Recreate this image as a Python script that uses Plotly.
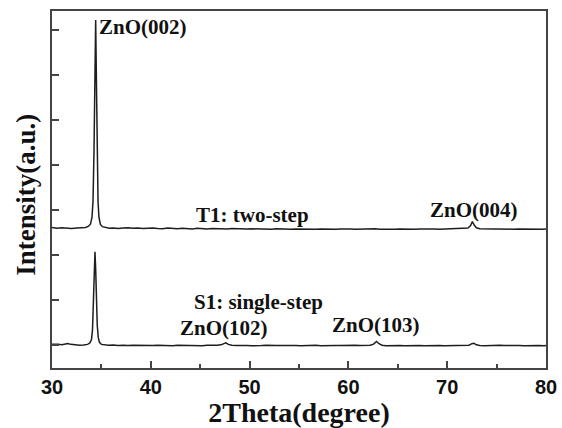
import plotly.graph_objects as go

# ---- data ----
t1_x = [30.0, 30.5, 31.0, 31.5, 32.0, 32.5, 33.0, 33.4, 33.7, 33.9, 34.05, 34.15, 34.25, 34.35,
        34.42, 34.5, 34.58, 34.66, 34.75, 34.9, 35.1, 35.4, 35.8, 36.2, 36.7, 37.2, 37.7, 38.2,
        38.7, 39.2, 39.7, 40.2, 40.7, 41.2, 41.7, 42.2, 42.7, 43.2, 43.7, 44.2, 44.7, 45.2, 45.7,
        46.2, 46.7, 47.2, 47.7, 48.2, 48.7, 49.2, 49.7, 50.2, 50.7, 51.2, 51.7, 52.2, 52.7, 53.2,
        53.7, 54.2, 54.7, 55.2, 55.7, 56.2, 56.7, 57.2, 57.7, 58.2, 58.7, 59.2, 59.7, 60.2, 60.7,
        61.2, 61.7, 62.2, 62.7, 63.2, 63.7, 64.2, 64.7, 65.2, 65.7, 66.2, 66.7, 67.2, 67.7, 68.2,
        68.7, 69.2, 69.7, 70.2, 70.7, 71.2, 71.7, 72.1, 72.35, 72.55, 72.75, 72.95, 73.3, 73.7,
        74.2, 74.7, 75.2, 75.7, 76.2, 76.7, 77.2, 77.7, 78.2, 78.7, 79.2, 79.7, 80.0]
t1_y = [3120, 3105, 3115, 3110, 3100, 3112, 3108, 3120, 3150, 3200, 3350, 3700, 4800, 6600,
        7730, 6300, 4600, 3700, 3350, 3190, 3140, 3118, 3105, 3112, 3100, 3108, 3115, 3102,
        3110, 3098, 3106, 3112, 3100, 3095, 3108, 3100, 3092, 3104, 3098, 3090, 3102, 3096, 3088,
        3100, 3094, 3098, 3090, 3096, 3088, 3094, 3085, 3092, 3086, 3095, 3088, 3082, 3092, 3085,
        3090, 3080, 3088, 3084, 3092, 3086, 3080, 3088, 3083, 3090, 3082, 3087, 3080, 3088, 3084,
        3090, 3082, 3086, 3092, 3084, 3080, 3088, 3083, 3090, 3082, 3086, 3080, 3088, 3092, 3084,
        3090, 3082, 3086, 3092, 3085, 3090, 3095, 3110, 3160, 3250, 3170, 3115, 3095, 3088,
        3092, 3085, 3090, 3084, 3088, 3082, 3090, 3086, 3092, 3084, 3088, 3083, 3086]

s1_x = [30.0, 30.3, 30.6, 31.0, 31.3, 31.6, 31.9, 32.3, 32.8, 33.2, 33.6, 33.85, 34.0, 34.1,
        34.2, 34.28, 34.35, 34.42, 34.5, 34.58, 34.68, 34.8, 35.0, 35.3, 35.7, 36.2, 36.7, 37.2,
        37.7, 38.2, 38.7, 39.2, 39.7, 40.2, 40.7, 41.2, 41.7, 42.2, 42.7, 43.2, 43.7, 44.2, 44.7,
        45.2, 45.7, 46.2, 46.7, 47.1, 47.4, 47.6, 47.85, 48.2, 48.7, 49.2, 49.7, 50.2, 50.7, 51.2,
        51.7, 52.2, 52.7, 53.2, 53.7, 54.2, 54.7, 55.2, 55.7, 56.2, 56.7, 57.2, 57.7, 58.2, 58.7,
        59.2, 59.7, 60.2, 60.7, 61.2, 61.7, 62.2, 62.55, 62.85, 63.1, 63.4, 63.8, 64.2, 64.7,
        65.2, 65.7, 66.2, 66.7, 67.2, 67.7, 68.2, 68.7, 69.2, 69.7, 70.2, 70.7, 71.2, 71.7, 72.2,
        72.5, 72.7, 72.95, 73.3, 73.8, 74.3, 74.8, 75.3, 75.8, 76.3, 76.8, 77.3, 77.8, 78.3, 78.8,
        79.3, 79.8, 80.0]
s1_y = [530, 520, 525, 515, 530, 545, 525, 510, 505, 512, 525, 560, 640, 850,
        1400, 2100, 2580, 2200, 1500, 950, 680, 570, 525, 512, 505, 512, 500, 508,
        498, 506, 500, 510, 502, 498, 507, 500, 505, 496, 504, 500, 508, 498, 503,
        497, 505, 500, 506, 515, 545, 560, 525, 505, 498, 505, 500, 496, 504, 498,
        503, 495, 502, 498, 505, 497, 502, 496, 503, 498, 504, 497, 502, 495, 501,
        498, 505, 497, 503, 498, 504, 505, 530, 590, 540, 505, 495, 500, 496,
        502, 497, 503, 495, 500, 497, 503, 498, 502, 496, 500, 497, 503, 498, 505,
        540, 550, 515, 500, 496, 502, 497, 503, 498, 502, 496, 500, 497, 503, 498,
        501, 497, 499]

labels = ["ZnO(002)", "T1: two-step", "ZnO(004)", "S1: single-step", "ZnO(102)", "ZnO(103)"]
label_x = [39.2, 50.3, 72.7, 50.95, 47.4, 62.8]
label_y = [7578, 3400, 3511, 1467, 890, 956]

x_title = "2Theta(degree)"
y_title = "Intensity(a.u.)"

x_range = [30, 80]
y_range = [0, 7930]

# ---- figure ----
fig = go.Figure()
for xs, ys in [(s1_x, s1_y), (t1_x, t1_y)]:
    fig.add_trace(go.Scatter(x=xs, y=ys, mode="lines",
                             line=dict(color="#1e1e1e", width=1.5),
                             showlegend=False, hoverinfo="skip"))

ann_font = dict(family="Liberation Serif", size=21, color="#111111", weight="bold")
for txt, xv, yv in zip(labels, label_x, label_y):
    fig.add_annotation(x=xv, y=yv, text=txt, showarrow=False,
                       xanchor="center", yanchor="middle", font=ann_font)

title_font = dict(family="Liberation Serif", size=27, color="#111111", weight="bold")
# vertical axis title, placed slightly below the plot's vertical centre as in the reference
fig.add_annotation(xref="paper", yref="paper", x=-0.0526, y=0.485, text=y_title,
                   textangle=-90, showarrow=False, xanchor="center", yanchor="middle",
                   font=title_font)

axis_col = "#444444"
fig.update_xaxes(range=x_range, dtick=10, tick0=30, automargin=False,
                 showline=True, linecolor=axis_col, linewidth=1.5, mirror=True,
                 ticks="inside", ticklen=7, tickwidth=1.5, tickcolor=axis_col,
                 minor=dict(dtick=5, ticks="inside", ticklen=4, tickwidth=1.5, tickcolor=axis_col),
                 showgrid=False, zeroline=False,
                 tickfont=dict(family="Liberation Sans", size=20, color="#111111", weight="bold"),
                 title=dict(text=x_title, standoff=4,
                            font=dict(family="Liberation Serif", size=28, color="#111111", weight="bold")))
fig.update_yaxes(range=y_range, tick0=500, dtick=1000, automargin=False,
                 showline=True, linecolor=axis_col, linewidth=1.5, mirror=True,
                 ticks="inside", ticklen=7, tickwidth=1.5, tickcolor=axis_col,
                 showticklabels=False, showgrid=False, zeroline=False)

fig.update_layout(width=562, height=428, margin=dict(l=52, r=16, t=11, b=60),
                  paper_bgcolor="white", plot_bgcolor="white")
fig.write_html("out.html")
